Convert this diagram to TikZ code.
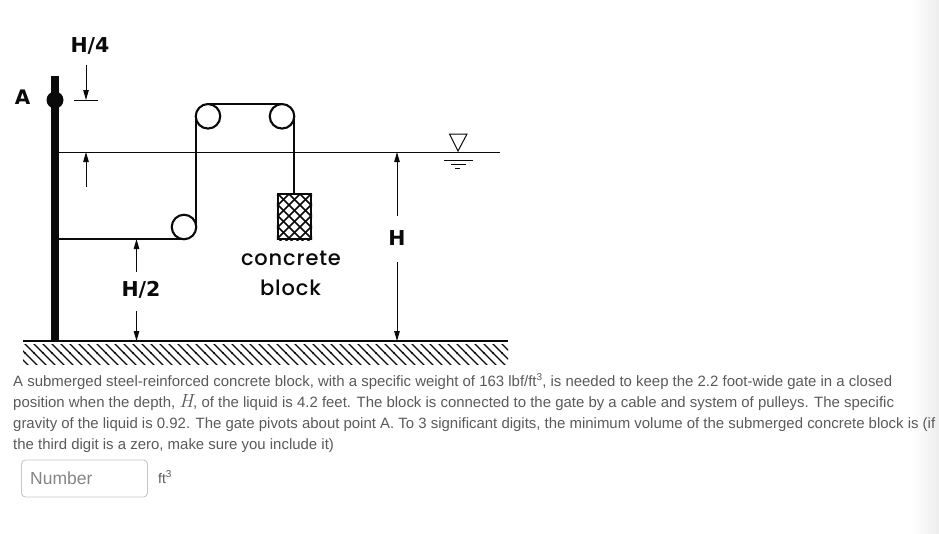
\documentclass[tikz,border=0pt]{standalone}
\usepackage{fontspec}
\setmainfont{Liberation Sans}
\newfontfamily\figfont[LetterSpace=4]{Poppins Medium}
\newfontfamily\labfont{DejaVu Sans}
\newfontfamily\hfont{Latin Modern Roman}
\usetikzlibrary{arrows.meta,shapes.geometric,calc}
\definecolor{bodytxt}{HTML}{5A5A5A}
\definecolor{inkblk}{HTML}{0A0A0A}
\newcommand{\supthree}{\raisebox{5.5pt}{\fontsize{10}{10}\selectfont 3}}
\tikzset{
  cable/.style={line width=2.1pt,draw=inkblk},
  pulley/.style={circle,draw=inkblk,line width=2.1pt,fill=white,minimum size=24.5pt,inner sep=0pt,outer sep=0pt},
  dim/.style={line width=1pt,draw=inkblk,-{Triangle[length=10pt,width=5.5pt]}},
  thin line/.style={line width=1pt,draw=inkblk},
  figtxt/.style={font=\figfont\fontsize{21}{24}\selectfont,text=inkblk,inner sep=0pt},
  dimtxt/.style={font=\labfont\bfseries\fontsize{20.5}{22}\selectfont,text=inkblk,inner sep=0pt},
  para/.style={anchor=base west,inner sep=0pt,text=bodytxt,font=\fontsize{14.95}{17}\selectfont},
}
\begin{document}
\begin{tikzpicture}[x=1pt,y=-1pt]
\useasboundingbox (0,0) rectangle (939,533);
\fill[white] (0,0) rectangle (939,533);
\shade[left color=white,right color=black!7,shading angle=90] (912,0) rectangle (939,533);
% gate
\fill[inkblk] (50.7,76) rectangle (59.3,341);
\node[circle,fill=inkblk,minimum size=17pt,inner sep=0pt] (pivot) at (55,100) {};
\node[dimtxt,font=\labfont\bfseries\fontsize{20}{20}\selectfont] (A) at (22.5,97) {A};
% water surface
\coordinate (wl) at (59,152);
\coordinate (wr) at (500,152);
\draw[thin line] (wl) -- (wr);
% pulleys and cable
\node[pulley] (p1) at (208,116.3) {};
\node[pulley] (p2) at (282,116.3) {};
\node[pulley] (p3) at (184,227) {};
\coordinate (gateT) at (59,239.25);
\draw[cable] (gateT) -- (p3.south);
\draw[cable] (p3.east) -- (p3.east |- p1.west);
\draw[cable] (p1.north) -- (p2.north);
% block
\node[draw=inkblk,line width=2.4pt,minimum width=33pt,minimum height=45pt,inner sep=0pt,fill=white] (blk) at (294.5,216.5) {};
\draw[cable] (p2.east) -- (p2.east |- blk.north);
\begin{scope}
\clip (blk.south west) rectangle (blk.north east);
\foreach \i in {-6,...,7}{
  \draw[line width=1.7pt,inkblk] (278+\i*11,194) -- ++(50,50);
  \draw[line width=1.7pt,inkblk] (278+\i*11,194) -- ++(-50,50);
}
\end{scope}
% labels
\node[figtxt] (conc) at (291,258.5) {concrete};
\node[figtxt] (blocklab) at (290.5,288) {block};
\node[dimtxt] (h4) at (90,46) {H/4};
\node[dimtxt] (h2) at (141,290) {H/2};
\node[dimtxt] (h) at (397,238) {H};
% H/4 dimension
\coordinate (a1) at (86,65);
\coordinate (a2) at (86,100);
\coordinate (a3) at (86,187);
\coordinate (a4) at (86,152);
\coordinate (t1) at (74,100);
\coordinate (t2) at (98,100);
\draw[thin line] (t1) -- (t2);
\draw[dim] (a1) -- (a2);
\draw[dim] (a3) -- (a4);
% H/2 dimension
\coordinate (b1) at (136.5,272);
\coordinate (b2) at (136.5,239);
\coordinate (b3) at (136.5,311);
\coordinate (b4) at (136.5,341);
\draw[dim] (b1) -- (b2);
\draw[dim] (b3) -- (b4);
% H dimension
\coordinate (c1) at (397,216);
\coordinate (c2) at (397,152);
\coordinate (c3) at (397,262);
\coordinate (c4) at (397,341);
\draw[dim] (c1) -- (c2);
\draw[dim] (c3) -- (c4);
% liquid symbol
\draw[line width=1pt,inkblk] (449.5,134) -- (467,134) -- (458,151) -- cycle;
\draw[thin line] (444,160) -- (473,160);
\draw[thin line] (451,164) -- (466,164);
\draw[thin line] (455,168) -- (460,168);
% ground
\coordinate (gl) at (23,341);
\coordinate (gr) at (508,341);
\draw[line width=2pt,inkblk] (gl) -- (gr);
\begin{scope}
\clip (23,344) rectangle (508,364);
\foreach \i in {-3,...,54}{
  \draw[line width=1.2pt,inkblk] (23+\i*9,342) -- ++(24,24);
  \fill[inkblk] (23+\i*9+11,353) circle[radius=1.2];
}
\end{scope}
% text
\node[para] (l1) at (13,386) {A submerged steel-reinforced concrete block, with a specific weight of 163 lbf/ft\supthree, is needed to keep the 2.2 foot-wide gate in a closed};
\node[para] (l2) at (13,407) {position when the depth, {\hfont\itshape\fontsize{19}{17}\selectfont H}, of the liquid is 4.2 feet. The block is connected to the gate by a cable and system of pulleys. The specific};
\node[para] (l3) at (13,428) {gravity of the liquid is 0.92. The gate pivots about point A. To 3 significant digits, the minimum volume of the submerged concrete block is (if};
\node[para] (l4) at (13,449.5) {the third digit is a zero, make sure you include it)};
% answer field
\node[draw=black!22,line width=0.9pt,rounded corners=4pt,minimum width=126pt,minimum height=37pt,inner sep=0pt] (box) at (84.5,478.5) {};
\node[anchor=west,inner sep=0pt,text=black!48,font=\fontsize{17.5}{20}\selectfont] (num) at (30,478) {Number};
\node[anchor=base west,inner sep=0pt,text=bodytxt,font=\fontsize{14}{14}\selectfont] (unit) at (158,483) {ft\supthree};
\end{tikzpicture}
\end{document}
